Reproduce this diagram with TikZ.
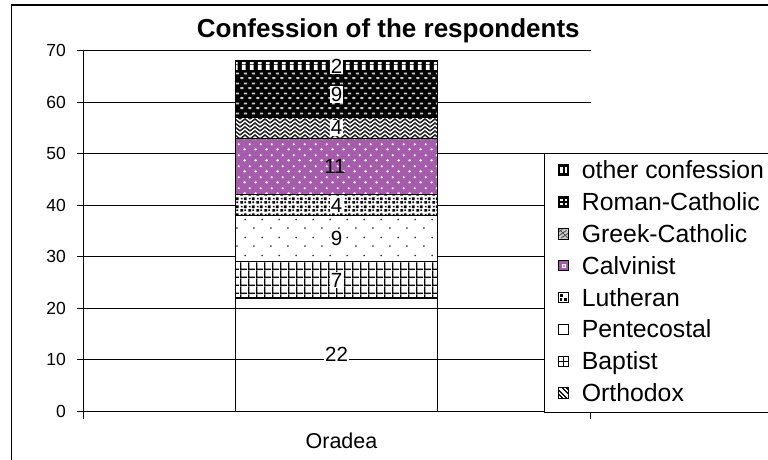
\documentclass[tikz,border=0pt]{standalone}
\usepackage{fontspec}
\setmainfont{Liberation Sans}
\usetikzlibrary{patterns}

% ---- fill patterns (form only, coloured by "pattern color") ----
\pgfdeclarepatternformonly{othervert}{\pgfpointorigin}{\pgfpoint{8.3pt}{6pt}}{\pgfpoint{8.3pt}{6pt}}{%
  \pgfpathrectangle{\pgfpoint{2pt}{0pt}}{\pgfpoint{4pt}{6pt}}\pgfusepath{fill}}
\pgfdeclarepatternformonly{rcdash}{\pgfpointorigin}{\pgfpoint{8pt}{10pt}}{\pgfpoint{8pt}{10pt}}{%
  \pgfpathrectangle{\pgfpoint{0.3pt}{1pt}}{\pgfpoint{3.6pt}{2pt}}%
  \pgfpathrectangle{\pgfpoint{4.3pt}{6pt}}{\pgfpoint{3.6pt}{2pt}}\pgfusepath{fill}}
\pgfdeclarepatternformonly{gczig}{\pgfpoint{-1pt}{-1pt}}{\pgfpoint{11pt}{9pt}}{\pgfpoint{10pt}{8pt}}{%
  \pgfsetlinewidth{1.5pt}%
  \pgfpathmoveto{\pgfpoint{0pt}{0pt}}\pgfpathlineto{\pgfpoint{5pt}{4pt}}\pgfpathlineto{\pgfpoint{10pt}{0pt}}%
  \pgfpathmoveto{\pgfpoint{0pt}{4pt}}\pgfpathlineto{\pgfpoint{5pt}{8pt}}\pgfpathlineto{\pgfpoint{10pt}{4pt}}%
  \pgfusepath{stroke}}
\pgfdeclarepatternformonly{calvplus}{\pgfpointorigin}{\pgfpoint{11pt}{11pt}}{\pgfpoint{11pt}{11pt}}{%
  \pgfpathrectangle{\pgfpoint{1.6pt}{2.4pt}}{\pgfpoint{2.6pt}{0.9pt}}%
  \pgfpathrectangle{\pgfpoint{2.45pt}{1.55pt}}{\pgfpoint{0.9pt}{2.6pt}}%
  \pgfpathrectangle{\pgfpoint{7.1pt}{7.9pt}}{\pgfpoint{2.6pt}{0.9pt}}%
  \pgfpathrectangle{\pgfpoint{7.95pt}{7.05pt}}{\pgfpoint{0.9pt}{2.6pt}}%
  \pgfusepath{fill}}
\pgfdeclarepatternformonly{luthsq}{\pgfpointorigin}{\pgfpoint{8pt}{8pt}}{\pgfpoint{8pt}{8pt}}{%
  \pgfpathrectangle{\pgfpoint{0.3pt}{0.3pt}}{\pgfpoint{3.2pt}{2.8pt}}%
  \pgfpathrectangle{\pgfpoint{4.3pt}{4.3pt}}{\pgfpoint{3.2pt}{2.8pt}}%
  \pgfpathrectangle{\pgfpoint{4.8pt}{1pt}}{\pgfpoint{2pt}{1.8pt}}%
  \pgfpathrectangle{\pgfpoint{1pt}{5pt}}{\pgfpoint{2pt}{1.8pt}}%
  \pgfusepath{fill}}
\pgfdeclarepatternformonly{pentdots}{\pgfpointorigin}{\pgfpoint{16.7pt}{17.4pt}}{\pgfpoint{16.7pt}{17.4pt}}{%
  \pgfpathcircle{\pgfpoint{4pt}{4pt}}{0.95pt}%
  \pgfpathcircle{\pgfpoint{12.35pt}{12.7pt}}{0.95pt}\pgfusepath{fill}}
\pgfdeclarepatternformonly{bapgrid}{\pgfpointorigin}{\pgfpoint{8pt}{8.3pt}}{\pgfpoint{8pt}{8.3pt}}{%
  \pgfpathrectangle{\pgfpoint{0pt}{0pt}}{\pgfpoint{1.5pt}{8.3pt}}%
  \pgfpathrectangle{\pgfpoint{0pt}{0pt}}{\pgfpoint{8pt}{1.5pt}}\pgfusepath{fill}}

\definecolor{calvpurple}{RGB}{165,92,170}

\tikzset{
  thinline/.style={line width=1pt, black},
  segline/.style={line width=1pt, black},
  ticklab/.style={anchor=east, inner sep=0pt, font=\fontsize{17.5}{19}\selectfont},
  datalab/.style={fill=white, inner sep=1pt, font=\fontsize{20.5}{22}\selectfont},
  nolab/.style={inner sep=1pt, font=\fontsize{20.5}{22}\selectfont},
  legtext/.style={anchor=base west, inner sep=0pt, font=\fontsize{24.8}{26}\selectfont},
  legmark/.style={line width=0.8pt, black},
}

\begin{document}
\begin{tikzpicture}[x=1pt,y=-1pt]
\useasboundingbox (0,0) rectangle (768,459);
\clip (0,0) rectangle (768,459);
\fill[white] (0,0) rectangle (768,459);

% outer frame (runs off the right and bottom edges)
\draw[line width=1.3pt] (11.5,480) -- (11.5,5) -- (790,5);

% title
\node[anchor=base, inner sep=0pt, font=\bfseries\fontsize{26}{28}\selectfont] (title) at (388.3,37.3) {Confession of the respondents};

\begin{scope}[shift={(0,411.5)}, y=5.157pt]
  % gridlines and y ticks
  \foreach \v in {10,20,...,70} {
    \draw[thinline] (83.3,\v) -- (590.5,\v);
  }
  \foreach \v in {0,10,...,70} {
    \draw[thinline] (77,\v) -- (83.3,\v);
    \node[ticklab] (yl\v) at (66,\v) {\v};
  }
  % axes
  \draw[thinline] (83.3,70) -- (83.3,-1.36);
  \draw[thinline] (83.3,0) -- (590.5,0);
  \draw[thinline] (590.5,0) -- (590.5,-1.36);

  % stacked bar
  \def\bl{235.7}\def\br{437.3}
  % Orthodox 0-22 (unfilled)
  \draw[segline] (\bl,0) rectangle (\br,22);
  % Baptist 22-29
  \fill[white] (\bl,22) rectangle (\br,29);
  \fill[pattern=bapgrid, pattern color=black] (\bl,22) rectangle (\br,29);
  \draw[segline] (\bl,22) rectangle (\br,29);
  \draw[line width=1.6pt] (\bl,22) -- (\br,22);
  % Pentecostal 29-38
  \fill[white] (\bl,29) rectangle (\br,38);
  \fill[pattern=pentdots, pattern color=black!80] (\bl,29) rectangle (\br,38);
  \draw[segline] (\bl,29) rectangle (\br,38);
  % Lutheran 38-42
  \fill[white] (\bl,38) rectangle (\br,42);
  \fill[pattern=luthsq, pattern color=black] (\bl,38) rectangle (\br,42);
  \draw[segline] (\bl,38) rectangle (\br,42);
  % Calvinist 42-53
  \fill[calvpurple] (\bl,42) rectangle (\br,53);
  \fill[pattern=calvplus, pattern color=white] (\bl,42) rectangle (\br,53);
  \draw[segline] (\bl,42) rectangle (\br,53);
  % Greek-Catholic 53-57
  \fill[white] (\bl,53) rectangle (\br,57);
  \fill[pattern=gczig, pattern color=black!85] (\bl,53) rectangle (\br,57);
  \draw[segline] (\bl,53) rectangle (\br,57);
  % Roman-Catholic 57-66
  \fill[black] (\bl,57) rectangle (\br,66);
  \fill[pattern=rcdash, pattern color=white!80!black] (\bl,57) rectangle (\br,66);
  \draw[segline] (\bl,57) rectangle (\br,66);
  % other confession 66-68
  \fill[black] (\bl,66) rectangle (\br,68);
  \fill[pattern=othervert, pattern color=white] (\bl,66.35) rectangle (\br,67.65);
  \draw[segline] (\bl,66) rectangle (\br,68);

  % data labels
  \node[datalab] (l1) at (336.5,11) {22};
  \node[datalab] (l2) at (336.5,25.5) {7};
  \node[datalab] (l3) at (336.5,33.5) {9};
  \node[datalab] (l4) at (336.5,40) {4};
  \node[nolab]   (l5) at (335,47.5) {11};
  \node[datalab] (l6) at (336.5,55) {4};
  \node[datalab] (l7) at (336.5,61.5) {9};
  \node[datalab] (l8) at (336.5,67) {2};
\end{scope}

% category label
\node[anchor=base, inner sep=0pt, font=\fontsize{21.5}{24}\selectfont] (cat) at (341.5,448.5) {Oradea};

% legend
\draw[line width=1pt, fill=white] (544.5,153) rectangle (790,412);
\def\mx{558.3}
\def\ms{10.5}
\foreach \i/\txt in {0/other confession,1/Roman-Catholic,2/Greek-Catholic,3/Calvinist,4/Lutheran,5/Pentecostal,6/Baptist,7/Orthodox} {
  \pgfmathsetmacro{\ry}{170+31.86*\i}
  \node[legtext] (leg\i) at (581.7,\ry+8.6) {\txt};
  \coordinate (m\i) at (\mx,\ry-5.25);
}
% legend markers
\begin{scope}[shift={(m0)}]
  \fill[black] (0,0) rectangle (\ms,\ms);
  \fill[white] (2,2) rectangle (4.2,8.5); \fill[white] (6.3,2) rectangle (8.5,8.5);
  \draw[legmark] (0,0) rectangle (\ms,\ms);
\end{scope}
\begin{scope}[shift={(m1)}]
  \fill[black] (0,0) rectangle (\ms,\ms);
  \fill[white] (2,2) rectangle (4.3,4); \fill[white] (6.2,2) rectangle (8.5,4);
  \fill[white] (2,6.5) rectangle (4.3,8.5); \fill[white] (6.2,6.5) rectangle (8.5,8.5);
  \draw[legmark] (0,0) rectangle (\ms,\ms);
\end{scope}
\begin{scope}[shift={(m2)}]
  \fill[black!22] (0,0) rectangle (\ms,\ms);
  \draw[black!70, line width=0.8pt] (1,3) -- (4,1) (1,7) -- (8,2) (3,9.5) -- (9.5,5) (1,1) -- (9.5,9.5);
  \draw[legmark] (0,0) rectangle (\ms,\ms);
\end{scope}
\begin{scope}[shift={(m3)}]
  \fill[calvpurple] (0,0) rectangle (\ms,\ms);
  \fill[white] (3.2,3.2) rectangle (7.3,7.3);
  \fill[calvpurple!70] (4.2,4.2) rectangle (6.3,6.3);
  \draw[legmark] (0,0) rectangle (\ms,\ms);
\end{scope}
\begin{scope}[shift={(m4)}]
  \fill[white] (0,0) rectangle (\ms,\ms);
  \fill[black] (2,2) rectangle (4.5,4.5); \fill[black] (6,5.5) rectangle (8.5,8.5);
  \fill[black] (2,6) rectangle (3.8,8.5);
  \draw[legmark] (0,0) rectangle (\ms,\ms);
\end{scope}
\begin{scope}[shift={(m5)}]
  \fill[white] (0,0) rectangle (\ms,\ms);
  \draw[legmark] (0,0) rectangle (\ms,\ms);
\end{scope}
\begin{scope}[shift={(m6)}]
  \fill[white] (0,0) rectangle (\ms,\ms);
  \draw[legmark] (\ms/2,0) -- (\ms/2,\ms) (0,\ms/2) -- (\ms,\ms/2);
  \draw[legmark] (0,0) rectangle (\ms,\ms);
\end{scope}
\begin{scope}[shift={(m7)}]
  \fill[white] (0,0) rectangle (\ms,\ms);
  \clip (0,0) rectangle (\ms,\ms);
  \draw[black, line width=1.1pt] (-3,3) -- (7,13) (-3,-1) -- (11,13) (1,-3) -- (15,11) (5,-3) -- (15,7);
\end{scope}
\draw[legmark] (m7) rectangle ++(\ms,\ms);
\end{tikzpicture}
\end{document}
